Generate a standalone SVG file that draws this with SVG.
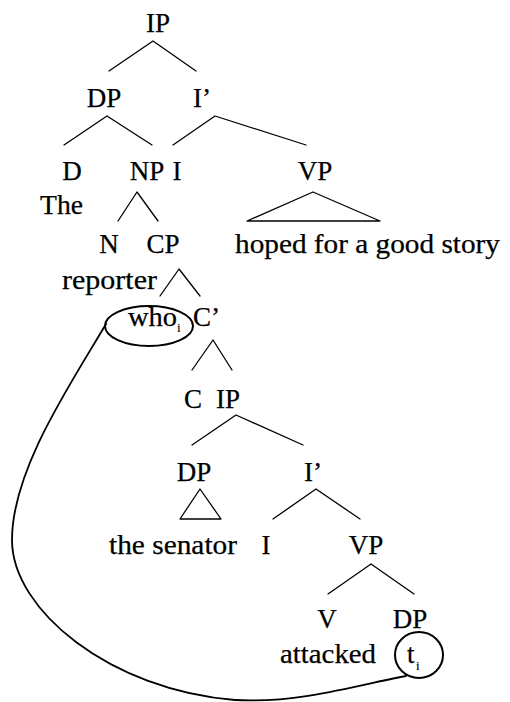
<svg xmlns="http://www.w3.org/2000/svg" width="510" height="702" viewBox="0 0 510 702">
  <style>
    text { font-family: "Liberation Serif", "Times New Roman", serif; font-size: 27px; fill: #000; stroke: #000; stroke-width: 0.25; }
    .c { text-anchor: middle; }
    .sub { font-size: 13px; stroke-width: 0.15; }
    .br { stroke: #000; stroke-width: 1.3; fill: none; stroke-linecap: round; stroke-linejoin: round; }
    .ring { stroke: #000; stroke-width: 2; fill: none; }
    .move { stroke: #000; stroke-width: 1.8; fill: none; stroke-linecap: round; }
  </style>
  <rect width="510" height="702" fill="#fff"/>

  <!-- tree branches and the movement link -->
  <g id="connectors">
    <path class="br" d="M109,71 L153,41 L196,71"/>
    <path class="br" d="M64,145 L107,116 L152,145"/>
    <path class="br" d="M173,145 L215,116 L306,145"/>
    <path class="br" d="M118,221 L137,192 L158,221"/>
    <path class="br" d="M247,221 L313,192 L380,221 Z"/>
    <path class="br" d="M160,296 L179,269 L200,296"/>
    <path class="br" d="M192,370 L213,340 L232,370"/>
    <path class="br" d="M192,445 L236,415 L303,445"/>
    <path class="br" d="M180,519 L200,489 L221,519 Z"/>
    <path class="br" d="M273,519 L316,489 L360,519"/>
    <path class="br" d="M328,594 L371,564 L414,594"/>
    <path class="move" d="M106,324 C 70,385 12,470 12,540 C 12,610 110,690 235,700 C 300,704 370,682 406,676"/>
  </g>

  <g id="ip-root"><text class="c" x="158" y="32">IP</text></g>
  <g id="dp-subject"><text class="c" x="104" y="107">DP</text></g>
  <g id="ibar-main"><text class="c" x="202" y="107">I’</text></g>
  <g id="d-head"><text class="c" x="72" y="180">D</text><text x="40" y="214" textLength="43" lengthAdjust="spacingAndGlyphs">The</text></g>
  <g id="np"><text class="c" x="147" y="180">NP</text></g>
  <g id="i-main"><text class="c" x="177" y="180">I</text></g>
  <g id="vp-main"><text class="c" x="315" y="180">VP</text><text x="235" y="253" textLength="265" lengthAdjust="spacingAndGlyphs">hoped for a good story</text></g>
  <g id="n-head"><text class="c" x="109" y="253">N</text><text x="62" y="289" textLength="95" lengthAdjust="spacingAndGlyphs">reporter</text></g>
  <g id="cp"><text class="c" x="163" y="253">CP</text></g>
  <g id="spec-cp">
    <ellipse class="ring" cx="149" cy="326" rx="44" ry="20"/>
    <text x="128" y="326" textLength="49" lengthAdjust="spacingAndGlyphs">who</text><text class="sub" x="177" y="332">i</text>
  </g>
  <g id="cbar"><text x="193" y="326">C’</text></g>
  <g id="c-head"><text class="c" x="193" y="408">C</text></g>
  <g id="ip-rel"><text class="c" x="228" y="408">IP</text></g>
  <g id="dp-rel"><text class="c" x="194" y="481">DP</text><text x="109" y="554" textLength="128" lengthAdjust="spacingAndGlyphs">the senator</text></g>
  <g id="ibar-rel"><text class="c" x="313" y="481">I’</text></g>
  <g id="i-rel"><text class="c" x="266" y="554">I</text></g>
  <g id="vp-rel"><text class="c" x="366" y="554">VP</text></g>
  <g id="v-head"><text class="c" x="327" y="628">V</text><text x="280" y="663" textLength="96" lengthAdjust="spacingAndGlyphs">attacked</text></g>
  <g id="dp-object">
    <text class="c" x="410" y="628">DP</text>
    <ellipse class="ring" cx="419" cy="655" rx="24" ry="23"/>
    <text x="407" y="663">t</text><text class="sub" x="416" y="670">i</text>
  </g>
</svg>
